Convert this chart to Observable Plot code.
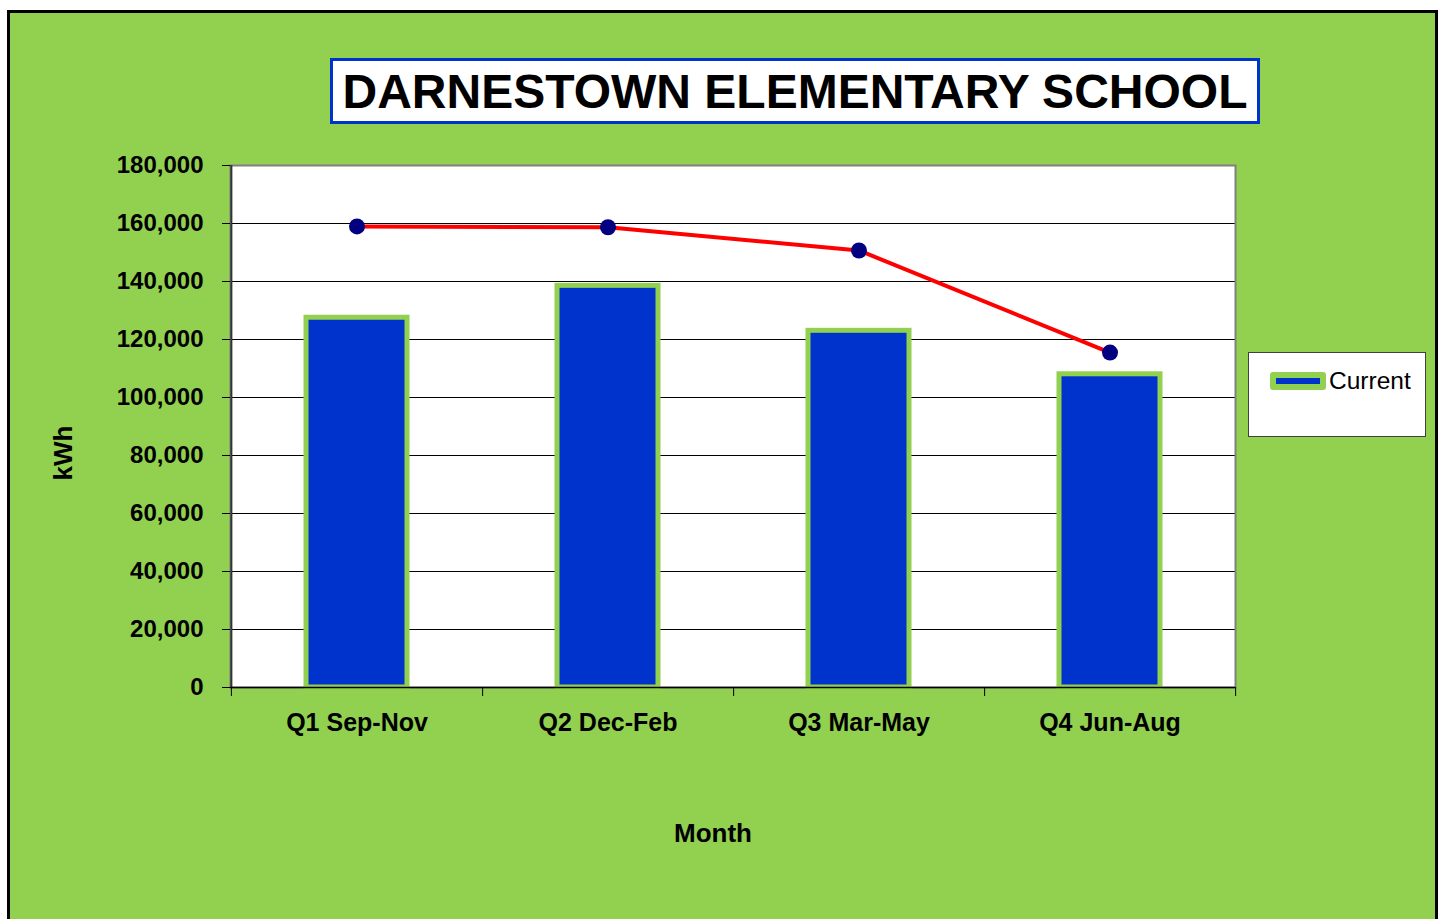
<!DOCTYPE html>
<html>
<head>
<meta charset="utf-8">
<script src="https://cdn.jsdelivr.net/npm/d3@7"></script>
<script src="https://cdn.jsdelivr.net/npm/@observablehq/plot@0.6"></script>
<style>
  html, body { margin: 0; padding: 0; background: #ffffff; }
  #wrap { position: relative; width: 1442px; height: 919px; overflow: hidden; background: #ffffff; font-family: "Liberation Sans", Arial, sans-serif; }
  #bg { position: absolute; left: 7px; top: 10px; width: 1425px; height: 930px; background: #92D050; border: 3px solid #000; border-bottom: none; }
  #chart { position: absolute; left: 0; top: 0; }
  #title { position: absolute; left: 330px; top: 58px; width: 924px; height: 60px; background: #fff; border: 3px solid #0033CC; font-weight: bold; font-size: 48px; line-height: 62px; text-align: center; color: #000; white-space: nowrap; }
  #legend { position: absolute; left: 1248px; top: 352px; width: 176px; height: 83px; background: #fff; border: 1px solid #404040; }
  #swatch { position: absolute; left: 21px; top: 19px; width: 56px; height: 18px; background: #92D050; border-radius: 3px; }
  #swatch div { position: absolute; left: 6px; top: 6px; width: 44px; height: 6px; background: #0033CC; }
  #legtext { position: absolute; left: 80px; top: 13px; font-size: 24.5px; color: #000; line-height: 30px; }
  .axlabel { position: absolute; font-weight: bold; font-size: 26px; color: #000; white-space: nowrap; }
</style>
</head>
<body>
<div id="wrap">
  <div id="bg"></div>
  <div id="chart"></div>
  <div id="title">DARNESTOWN ELEMENTARY SCHOOL</div>
  <div id="legend"><div id="swatch"><div></div></div><div id="legtext">Current</div></div>
  <div class="axlabel" id="ylab" style="left:63px; top:453px; transform: translate(-50%,-50%) rotate(-90deg);">kWh</div>
  <div class="axlabel" id="xlab" style="left:713px; top:833px; transform: translate(-50%,-50%);">Month</div>
</div>
<script>
const categories = ["Q1 Sep-Nov", "Q2 Dec-Feb", "Q3 Mar-May", "Q4 Jun-Aug"];
const currentValues = [127500, 138500, 123000, 108000];
const lineValues = [159000, 158700, 150700, 115500];
const yTicks = [0, 20000, 40000, 60000, 80000, 100000, 120000, 140000, 160000, 180000];

const data = categories.map((c, i) => ({cat: c, current: currentValues[i], line: lineValues[i]}));

const W = 1442, H = 919;
const mL = 230, mR = 207, mT = 165, mB = 232;
const step = (W - mL - mR) / categories.length;
const narrow = "'Liberation Sans Narrow', 'Arial Narrow', 'Liberation Sans', Arial, sans-serif";

const chart = Plot.plot({
  width: W, height: H,
  marginLeft: mL, marginRight: mR, marginTop: mT, marginBottom: mB,
  style: {background: "transparent", overflow: "visible"},
  x: {domain: categories, padding: 0, axis: null},
  y: {domain: [0, 180000], axis: null},
  marks: [
    Plot.frame({fill: "white"}),
    Plot.gridY(yTicks.slice(1, -1), {stroke: "black", strokeOpacity: 1, strokeWidth: 1}),
    Plot.frame({stroke: "#808080", strokeWidth: 2}),
    Plot.barY(data, {x: "cat", y: "current", fill: "#0033CC", stroke: "#92D050", strokeWidth: 5, insetLeft: 75, insetRight: 75}),
    Plot.ruleX([categories[0]], {dx: -step / 2, stroke: "#333", strokeWidth: 2}),
    Plot.ruleY([0], {stroke: "black", strokeWidth: 1.5}),
    Plot.line(data, {x: "cat", y: "line", stroke: "#FF0000", strokeWidth: 4}),
    Plot.dot(data, {x: "cat", y: "line", r: 8, fill: "#000080", stroke: "none"}),
    Plot.axisY({ticks: yTicks, tickSize: 8, tickPadding: 19, tickFormat: d3.format(","), fontSize: 24, fontWeight: "bold", fontFamily: narrow, fill: "black", stroke: "black", label: null}),
    Plot.axisX({tickSize: 0, tickPadding: 26, fontSize: 25, fontWeight: "bold", fontFamily: narrow, fill: "black", label: null}),
    Plot.axisX({tickSize: 9, tickFormat: () => "", dx: step / 2, stroke: "black", label: null}),
    Plot.axisX([categories[0]], {tickSize: 9, tickFormat: () => "", dx: -step / 2, stroke: "black", label: null})
  ]
});
document.getElementById("chart").appendChild(chart);
</script>
</body>
</html>
